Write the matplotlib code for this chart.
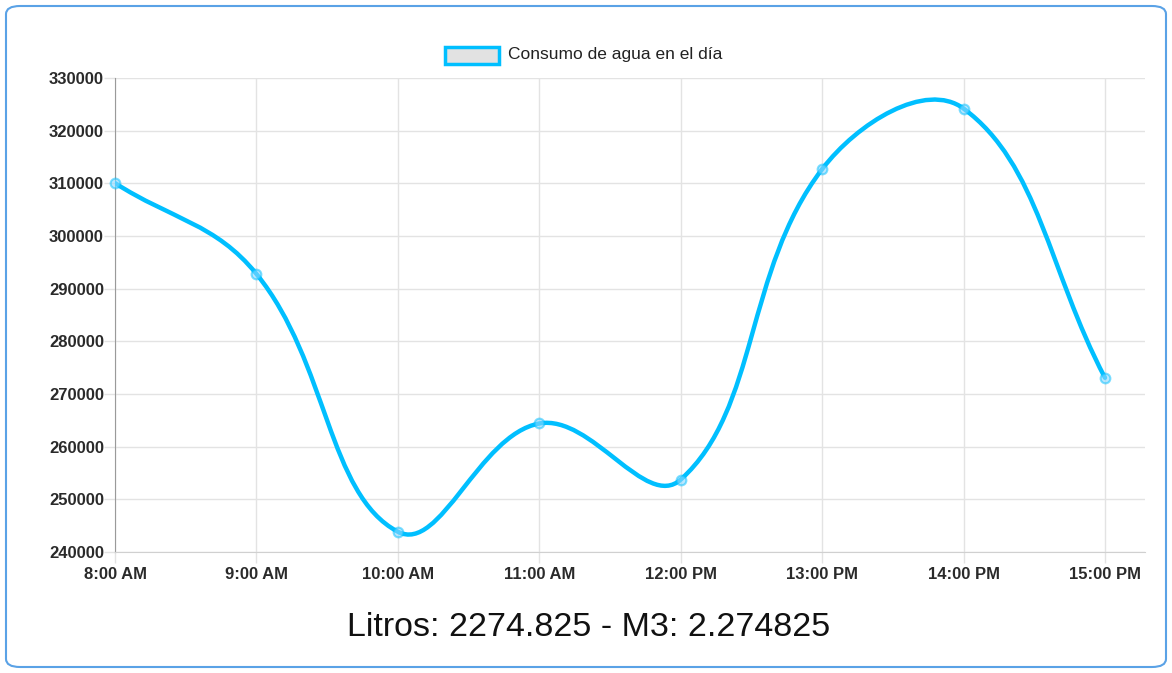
import numpy as np
import matplotlib
matplotlib.use("Agg")
import matplotlib.pyplot as plt
from matplotlib.patches import FancyBboxPatch, Rectangle
from matplotlib.path import Path
from matplotlib.patches import PathPatch

categories = ["8:00 AM", "9:00 AM", "10:00 AM", "11:00 AM", "12:00 PM", "13:00 PM", "14:00 PM", "15:00 PM"]
consumo = [310050, 292800, 243850, 264400, 253750, 312700, 324200, 273075]
yticks = [240000, 250000, 260000, 270000, 280000, 290000, 300000, 310000, 320000, 330000]
legend_label = "Consumo de agua en el día"
total_litros = "2274.825"
total_m3 = "2.274825"

plt.rcParams['font.family'] = ['Liberation Sans', 'DejaVu Sans']

W, H = 1172, 673
fig = plt.figure(figsize=(W / 100, H / 100), dpi=100)

# outer rounded border
border = FancyBboxPatch((6 / W, 6 / H), (W - 12) / W, (H - 12) / H,
                        boxstyle="round,pad=0,rounding_size=0.012",
                        transform=fig.transFigure, facecolor="none",
                        edgecolor="#5aa2e6", linewidth=1.5, zorder=-1)
fig.patches.append(border)

left, right, top, bottom = 115, 1145, 78, 552
ax = fig.add_axes([left / W, 1 - bottom / H, (right - left) / W, (bottom - top) / H])
ax.set_facecolor("none")
ax.set_zorder(2)

x = np.arange(len(categories))
ax.set_xlim(0, len(categories) - 1 + 40 / 141.4)
ax.set_ylim(240000, 330000)
ax.set_xticks(x)
ax.set_xticklabels(categories)
ax.set_yticks(yticks)
ax.set_yticklabels([str(v) for v in yticks])

grid_c = "#e3e3e3"
ax.grid(True, color=grid_c, linewidth=1, zorder=0)
for s in ["top", "right"]:
    ax.spines[s].set_visible(False)
ax.spines["left"].set_color("#9a9a9a")
ax.spines["bottom"].set_color("#d0d0d0")
ax.tick_params(axis="y", length=8, color=grid_c, width=1,
               labelsize=12, labelcolor="#2a2a2a", pad=0)
ax.tick_params(axis="x", length=8, color=grid_c, width=1,
               labelsize=12, labelcolor="#2a2a2a", pad=3)
for lab in ax.get_xticklabels() + ax.get_yticklabels():
    lab.set_fontweight("bold")

# Chart.js-style bezier spline (tension 0.4) computed in display space
fig.canvas.draw()
pts = ax.transData.transform(np.column_stack([x, consumo]))
t = 0.4
n = len(pts)
cp_prev = np.zeros_like(pts)
cp_next = np.zeros_like(pts)
for i in range(n):
    p0 = pts[i - 1] if i > 0 else pts[i]
    p1 = pts[i]
    p2 = pts[i + 1] if i < n - 1 else pts[i]
    d01 = np.hypot(*(p1 - p0))
    d12 = np.hypot(*(p2 - p1))
    tot = d01 + d12
    s01 = d01 / tot if tot else 0
    s12 = d12 / tot if tot else 0
    cp_prev[i] = p1 - t * s01 * (p2 - p0)
    cp_next[i] = p1 + t * s12 * (p2 - p0)
verts = [pts[0]]
codes = [Path.MOVETO]
for i in range(n - 1):
    verts += [cp_next[i], cp_prev[i + 1], pts[i + 1]]
    codes += [Path.CURVE4] * 3
inv = ax.transData.inverted()
verts_d = inv.transform(np.array(verts))
path = Path(verts_d, codes)
ax.add_patch(PathPatch(path, facecolor="none", edgecolor="#00bfff", linewidth=3.2,
                       zorder=3, capstyle="round", joinstyle="round"))
ax.plot(x, consumo, linestyle="none", marker="o", markersize=7,
        markerfacecolor=(0.55, 0.85, 1.0, 0.6), markeredgecolor=(0.0, 0.75, 1.0, 0.5),
        markeredgewidth=1.5, zorder=4, clip_on=False)

# legend
fig.patches.append(Rectangle((445 / W, 1 - 64 / H), 54 / W, 17 / H, transform=fig.transFigure,
                             facecolor="#e2e2e2", edgecolor="#00bfff", linewidth=2.5))
fig.text(508 / W, 1 - 54 / H, legend_label, fontsize=12.5, color="#222222",
         va="center", ha="left")

fig.text(589 / W, 1 - 627 / H, f"Litros: {total_litros} - M3: {total_m3}",
         fontsize=24.5, color="#111111", ha="center", va="center")

fig.savefig("out.png", dpi=100)
